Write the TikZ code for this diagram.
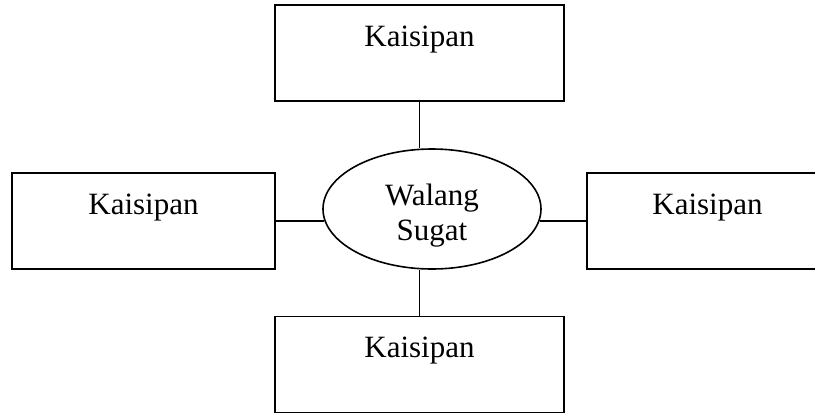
\documentclass[tikz,border=0pt]{standalone}
\usepackage{fontspec}
\setmainfont{Liberation Serif}
\usetikzlibrary{shapes.geometric}

\tikzset{
  kahon/.style={draw,line width=1.6pt,inner sep=0pt,text height=41pt,text depth=55pt},
  bilog/.style={draw,ellipse,line width=1.6pt,inner sep=0pt,minimum width=218pt,minimum height=120pt},
  ugnay/.style={line width=1.6pt},
}

\begin{document}
\begin{tikzpicture}[x=1pt,y=-1pt,font=\fontsize{31}{35}\selectfont]
  \useasboundingbox (0,0) rectangle (815,413);
  \node[bilog] (ell) at (432,209) {};%gitna
  \node[anchor=base] (walang) at (432,205) {Walang};
  \node[anchor=base] (sugat) at (432,240) {Sugat};

  \node[kahon,minimum width=289pt] (itaas) at (419.5,53) {Kaisipan};
  \node[kahon,minimum width=289pt] (ibaba) at (419.5,364.5) {Kaisipan};
  \node[kahon,minimum width=263pt] (kaliwa) at (143.5,221) {Kaisipan};
  \node[kahon,minimum width=241pt] (kanan) at (707.5,221) {Kaisipan};

  \draw[ugnay](itaas.south)--(itaas.south |- ell.north);
  \draw[ugnay](ibaba.north)--(ibaba.north |- ell.south);
  \draw[ugnay](kaliwa.east)--(kaliwa.east -| ell.186);
  \draw[ugnay](kanan.west)--(kanan.west -| ell.354);
\end{tikzpicture}
\end{document}
